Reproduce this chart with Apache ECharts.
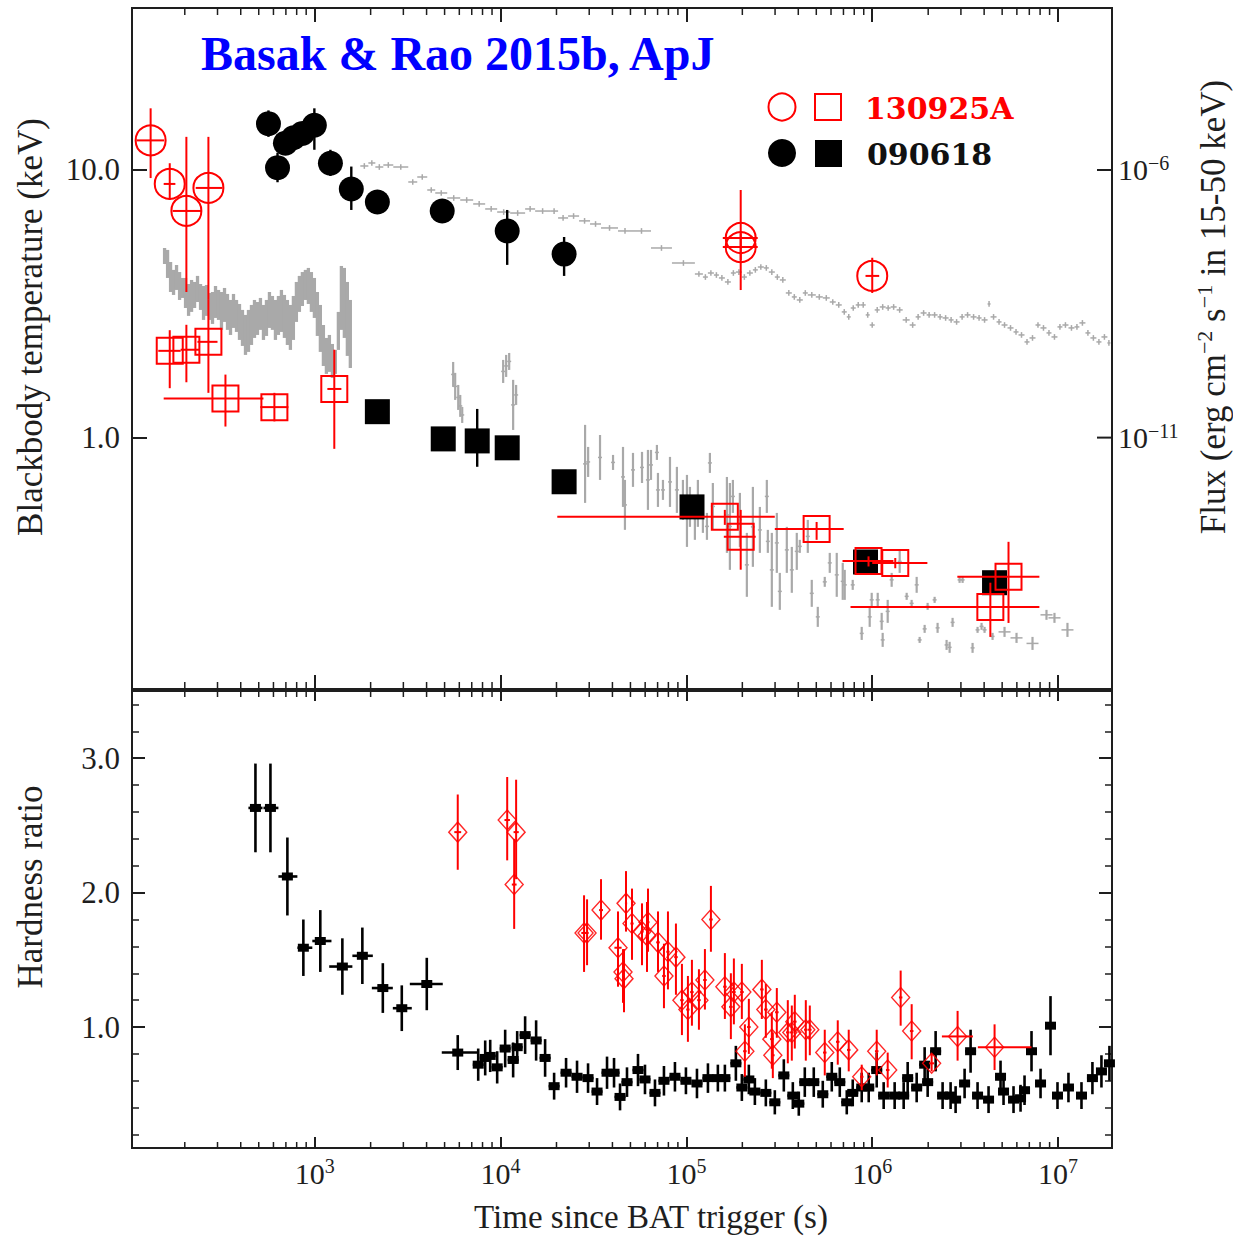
<!DOCTYPE html>
<html><head><meta charset="utf-8">
<script src="https://cdn.jsdelivr.net/npm/echarts@6/dist/echarts.min.js"></script>
<style>html,body{margin:0;padding:0;background:#fff}#c{width:1233px;height:1237px}</style>
</head><body><div id="c"></div>
<script>
// ---------------- axis ranges & tick labels ----------------
const X_MIN = 104, X_MAX = 1.95e7;          // time since BAT trigger (s)
const T_MIN = 0.115, T_MAX = 40.3;          // blackbody temperature (keV)
const F_MIN = 2.01e-16, F_MAX = 1.063e-3;   // flux (erg cm^-2 s^-1)
const HR_MIN = 0.1, HR_MAX = 3.5;           // hardness ratio
const X_LABEL_EXP = [3, 4, 5, 6, 7];
const T_TICK_LABELS = [1, 10];
const F_TICKS = [1e-6, 1e-11];
const F_TICK_EXP = ['\u22126', '\u221211'];
const HR_TICK_LABELS = [1, 2, 3];

// ---------------- top panel : blackbody temperatures ----------------
// [t, kT, tLo, tHi, kTLo, kTHi]
const RED_CIRCLES = [
  [131, 12.9, 110, 155, 9.33, 17.0],
  [166, 8.87, 154, 178, 7.73, 10.6],
  [204, 7.03, 172, 246, 3.50, 13.3],
  [268, 8.57, 229, 319, 3.27, 13.3],
  [1.96e5, 5.57, 1.57e5, 2.42e5, 3.56, 8.42],
  [1.96e5, 5.15, 1.57e5, 2.42e5, 4.60, 5.80],
  [1.00e6, 4.02, 9.2e5, 1.09e6, 3.47, 4.70]
];
const RED_SQUARES = [
  [166, 2.11, 144, 190, 1.53, 2.52],
  [204, 2.13, 190, 240, 1.61, 2.64],
  [268, 2.28, 234, 300, 1.47, 3.27],
  [331, 1.40, 154, 530, 1.10, 1.72],
  [607, 1.30, 510, 722, 1.15, 1.47],
  [1275, 1.52, 1170, 1392, 0.908, 2.13],
  [1.61e5, 0.506, 2.02e4, 2.99e5, 0.472, 0.537],
  [1.96e5, 0.426, 1.59e5, 2.36e5, 0.321, 0.537],
  [5.02e5, 0.456, 2.99e5, 7.02e5, 0.415, 0.484],
  [9.55e5, 0.346, 6.92e5, 1.30e6, 0.330, 0.360],
  [1.33e6, 0.340, 1.00e6, 1.98e6, 0.325, 0.355],
  [5.41e6, 0.302, 2.87e6, 7.93e6, 0.203, 0.408],
  [4.32e6, 0.233, 7.64e5, 7.93e6, 0.180, 0.287]
];
// [t, kT, kTLo, kTHi]
const BLACK_CIRCLES = [
  [564, 14.9, 13.3, 16.7], [631, 10.2, 9.0, 11.6], [696, 12.6, 11.4, 13.9],
  [768, 13.2, 12.0, 14.5], [859, 13.7, 12.4, 15.0], [996, 14.7, 11.9, 17.0],
  [1215, 10.6, 9.5, 11.9], [1574, 8.49, 7.09, 10.3], [2174, 7.59, 6.9, 8.3],
  [4855, 7.03, 6.4, 7.6], [10860, 5.92, 4.42, 7.09], [21980, 4.85, 4.02, 5.62]
];
const BLACK_SQUARES = [
  [2174, 1.25, 1.18, 1.32], [4917, 0.989, 0.94, 1.04], [7490, 0.972, 0.778, 1.28],
  [10860, 0.916, 0.87, 0.96], [21980, 0.684, 0.65, 0.72], [107200, 0.551, 0.52, 0.59],
  [920000, 0.343, 0.325, 0.36], [4.55e6, 0.287, 0.27, 0.30]
];

// ---------------- top panel : grey flux light curves (right axis) ----------------
// GRB 090618 XRT: contiguous time-bin edges and flux per bin
const XRT_090618_EDGES = [1760,1944,2120,2340,2648,3188,3563,4033,4453,5166,
6067,7125,8266,9590,11270,13560,15350,18480,20400,23090,
26460,30310,34730,42870,50970,64500,83620,111100,122700,130500,
140600,149600,161100,173500,184600,198800,211500,227900,242300,261000,
277600,299100,318200,342700,369200,392600,423000,450000,496900,542000,
590800,636300,685400,729200,766200,814900,866900,922200,969000,1.031e6,
1.097e6,1.181e6,1.256e6,1.353e6,1.458e6,1.590e6,1.712e6,1.821e6,1.961e6,2.087e6,
2.247e6,2.391e6,2.576e6,2.740e6,2.951e6,3.140e6,3.381e6,3.642e6,3.874e6,4.174e6,
4.331e6,4.665e6,4.962e6,5.344e6,5.757e6,6.124e6,6.596e6,7.017e6,7.558e6,8.039e6,
8.660e6,9.211e6,9.922e6,1.055e7,1.137e7,1.225e7,1.302e7,1.403e7,1.492e7,1.607e7,
1.711e7,1.842e7,1.912e7];
const XRT_090618_FLUX = [1.188e-6,1.352e-6,1.137e-6,1.239e-6,1.137e-6,5.97e-7,7.40e-7,4.23e-7,3.72e-7,3.00e-7,
2.75e-7,2.32e-7,1.87e-7,1.64e-7,1.57e-7,1.87e-7,1.71e-7,1.71e-7,1.27e-7,1.38e-7,
1.12e-7,9.80e-8,8.26e-8,7.26e-8,7.26e-8,3.49e-8,1.83e-8,1.14e-8,1.00e-8,1.19e-8,
1.09e-8,9.61e-9,8.09e-9,1.19e-8,1.24e-8,1.00e-8,1.19e-8,1.36e-8,1.54e-8,1.48e-8,
1.24e-8,1.00e-8,8.82e-9,5.04e-9,4.25e-9,3.73e-9,5.04e-9,4.63e-9,4.25e-9,4.07e-9,
3.42e-9,3.01e-9,2.23e-9,1.80e-9,2.64e-9,3.01e-9,3.01e-9,1.96e-9,1.27e-9,2.43e-9,
2.76e-9,2.64e-9,2.76e-9,2.43e-9,1.58e-9,1.27e-9,1.80e-9,2.13e-9,1.96e-9,1.96e-9,
1.80e-9,1.72e-9,1.58e-9,1.45e-9,1.80e-9,1.96e-9,1.80e-9,1.72e-9,1.58e-9,3.14e-9,
1.80e-9,1.45e-9,1.27e-9,1.12e-9,9.42e-10,8.28e-10,6.13e-10,7.28e-10,1.27e-9,1.12e-9,
9.03e-10,7.60e-10,1.17e-9,1.27e-9,1.12e-9,1.17e-9,1.39e-9,9.03e-10,7.28e-10,6.13e-10,
7.60e-10,5.87e-10];
const XRT_090618_REL_ERR = 0.13;

// GRB 130925A BAT light curve: time, flux upper and lower ends
const BAT_T = [155.7,161.6,167.7,174.0,180.6,187.5,194.5,201.9,209.6,217.5,
225.7,234.2,243.1,252.3,261.8,271.8,282.0,292.7,303.8,315.2,
327.2,339.5,352.4,365.7,379.6,393.9,408.8,424.3,440.3,456.9,
474.3,492.1,510.7,530.1,550.1,570.9,592.5,614.9,638.1,662.2,
687.3,713.2,740.2,768.1,797.3,827.4,858.6,891.3,924.9,960.0,
996.3,1034,1073,1114,1156,1200,1245,1292,1341,1392,1444,1499,1555];
const BAT_HI = [3.49e-8,3.21e-8,1.91e-8,1.36e-8,1.68e-8,1.24e-8,9.61e-9,9.61e-9,7.42e-9,8.82e-9,
8.09e-9,1.05e-8,7.42e-9,6.81e-9,7.11e-9,5.04e-9,5.26e-9,6.81e-9,5.74e-9,5.26e-9,
6.25e-9,4.83e-9,3.73e-9,4.83e-9,3.73e-9,3.14e-9,2.43e-9,1.96e-9,2.43e-9,3.01e-9,
3.73e-9,3.42e-9,4.07e-9,3.01e-9,3.73e-9,5.26e-9,4.43e-9,3.73e-9,4.43e-9,5.74e-9,
4.63e-9,3.73e-9,3.01e-9,4.43e-9,8.09e-9,1.05e-8,1.24e-8,1.36e-8,1.48e-8,1.24e-8,
9.61e-9,5.26e-9,3.01e-9,1.27e-9,7.28e-10,8.28e-10,5.62e-10,4.35e-10,2.23e-9,1.61e-8,
1.48e-8,8.09e-9,3.73e-9];
const BAT_LO = [1.75e-8,9.61e-9,5.26e-9,4.63e-9,5.74e-9,3.73e-9,4.07e-9,2.64e-9,1.88e-9,2.23e-9,
2.64e-9,3.42e-9,2.43e-9,1.58e-9,1.88e-9,1.58e-9,1.33e-9,1.72e-9,1.58e-9,1.03e-9,
1.45e-9,1.03e-9,8.28e-10,1.12e-9,9.42e-10,6.68e-10,5.16e-10,3.51e-10,3.99e-10,5.38e-10,
7.28e-10,8.28e-10,1.03e-9,6.68e-10,7.93e-10,1.12e-9,1.03e-9,6.68e-10,8.28e-10,9.42e-10,
7.28e-10,5.38e-10,4.35e-10,6.68e-10,1.45e-9,2.23e-9,2.88e-9,3.73e-9,3.14e-9,2.23e-9,
1.72e-9,7.93e-10,3.99e-10,2.18e-10,1.55e-10,1.69e-10,1.30e-10,1.55e-10,4.35e-10,1.03e-9,
7.28e-10,3.36e-10,2.00e-10];

// GRB 130925A XRT: [t, fluxLo, fluxHi]
const XRT_130925A = [
[5.56e3,8.85e-11,2.59e-10],[5.70e3,5.06e-11,1.62e-10],[5.92e3,3.29e-11,9.64e-11],[6.07e3,2.44e-11,6.27e-11],[6.22e3,1.88e-11,3.74e-11],
[1.033e4,1.05e-10,2.83e-10],[1.072e4,1.36e-10,3.51e-10],[1.113e4,1.84e-10,3.82e-10],[1.169e4,1.39e-11,1.20e-10],[1.213e4,4.08e-11,9.64e-11],
[2.85e4,6.03e-13,1.73e-11],[2.96e4,1.84e-12,6.70e-12],[3.43e4,1.62e-12,1.12e-11],[4.03e4,2.49e-12,4.75e-12],[4.56e4,5.07e-13,6.70e-12],
[4.67e4,1.89e-13,1.62e-12],[5.16e4,1.20e-12,5.18e-12],[5.77e4,1.42e-12,5.41e-12],[6.21e4,4.46e-13,5.89e-12],[6.45e4,1.62e-12,5.89e-12],
[6.94e4,3.83e-12,7.30e-12],[7.03e4,5.07e-13,2.19e-12],[7.48e4,6.86e-13,1.62e-12],[8.16e4,5.07e-13,4.36e-12],[8.89e4,3.92e-13,2.84e-12],
[9.58e4,2.90e-13,1.62e-12],[1.007e5,9.08e-14,2.01e-12],[1.045e5,2.15e-13,1.20e-12],[1.111e5,1.23e-13,7.80e-13],[1.153e5,2.15e-13,1.62e-12],
[1.227e5,1.66e-13,6.86e-13],[1.290e5,1.23e-13,3.92e-13],[1.338e5,2.19e-12,5.18e-12],[1.388e5,1.89e-13,1.42e-12],[1.652e5,7.02e-14,1.84e-12],
[1.714e5,3.38e-14,1.42e-12],[1.779e5,3.92e-13,1.62e-12],[1.940e5,9.08e-14,9.27e-13],[2.115e5,1.06e-14,1.66e-13],[2.279e5,3.85e-14,1.20e-12],
[2.485e5,7.02e-14,5.07e-13],[2.709e5,3.92e-13,1.62e-12],[2.743e5,7.02e-14,1.89e-13],[2.882e5,6.89e-15,1.66e-13],[3.066e5,2.97e-14,3.92e-13],
[3.182e5,6.05e-15,2.97e-14],[3.470e5,2.97e-14,2.15e-13],[3.692e5,1.26e-14,9.08e-14],[3.926e5,3.38e-14,1.66e-13],[4.075e5,7.02e-14,1.23e-13],
[4.500e5,7.02e-14,2.90e-13],[4.727e5,6.89e-15,2.20e-14],[5.093e5,2.91e-15,6.89e-15],[5.553e5,1.63e-14,2.50e-14],[5.908e5,2.97e-14,7.02e-14],
[6.442e5,1.06e-14,7.02e-14],[6.938e5,9.30e-15,4.57e-14],[7.112e5,9.30e-15,3.38e-14],[7.852e5,1.43e-14,2.20e-14],[8.777e5,1.66e-15,2.91e-15],
[9.690e5,2.91e-15,6.89e-15],[9.933e5,6.89e-15,1.26e-14],[1.070e6,6.89e-15,1.26e-14],[1.124e6,2.56e-15,5.32e-15],[1.138e6,1.23e-15,2.25e-15],
[1.211e6,3.46e-15,9.30e-15],[1.272e6,1.63e-14,2.97e-14],[1.405e6,2.97e-14,7.98e-14],[1.532e6,9.30e-15,1.26e-14],[1.629e6,6.89e-15,9.30e-15],
[1.734e6,1.26e-14,2.50e-14],[1.799e6,1.46e-15,1.89e-15],[1.914e6,2.25e-15,3.17e-15],[1.986e6,6.05e-15,8.17e-15],[2.166e6,8.17e-15,1.06e-14],
[2.247e6,2.25e-15,3.46e-15],[2.512e6,1.08e-15,1.66e-15],[2.608e6,9.52e-16,1.53e-15],[2.706e6,2.91e-15,4.29e-15],[2.951e6,1.93e-14,2.50e-14],
[3.063e6,1.93e-14,2.50e-14],[3.466e6,9.52e-16,1.46e-15],[3.687e6,2.25e-15,2.91e-15],[3.874e6,2.56e-15,3.46e-15],[4.021e6,2.25e-15,2.91e-15],
[4.440e6,1.66e-15,2.25e-15],[5.150e6,1.89e-15,2.91e-15],[5.974e6,1.46e-15,2.25e-15],[7.283e6,1.08e-15,1.89e-15],[8.660e6,3.94e-15,6.05e-15],
[9.561e6,3.46e-15,5.32e-15],[1.123e7,1.89e-15,3.46e-15]
];

// ---------------- bottom panel : hardness ratio ----------------
// GRB 090618: [t, HR, tLo, tHi, HRerr]
const HR_090618 = [
[480,2.63,440,524,0.33],[578,2.63,530,638,0.33],[713,2.12,638,807,0.29],[869,1.59,807,971,0.21],
[1072,1.64,971,1231,0.23],[1409,1.45,1197,1595,0.21],[1805,1.53,1595,2055,0.21],[2326,1.29,2030,2633,0.185],
[2942,1.14,2633,3330,0.17],[4010,1.32,3250,4888,0.195],[5885,0.81,4828,7490,0.13],
[7583,0.72,7090,8110,0.12],[8269,0.77,7730,8850,0.13],[8798,0.785,8220,9410,0.12],[9592,0.70,8960,10260,0.12],
[10590,0.84,9900,11330,0.14],[11690,0.755,10930,12510,0.13],[12290,0.85,11490,13150,0.12],[13560,0.94,12670,14510,0.14],
[15540,0.90,14520,16630,0.15],[17370,0.77,16230,18590,0.14],[19420,0.56,18150,20780,0.10],[22520,0.66,21050,24100,0.11],
[25800,0.63,24110,27610,0.12],[29570,0.62,27640,31640,0.11],[33060,0.52,30900,35370,0.10],[37410,0.66,34960,40030,0.12],
[40800,0.66,38130,43660,0.11],[43950,0.48,41070,47030,0.10],[47910,0.59,44780,51260,0.11],[54900,0.68,51310,58740,0.12],
[59870,0.61,55950,64060,0.11],[67760,0.51,63330,72500,0.10],[75730,0.60,70780,81030,0.11],[86780,0.63,81100,92850,0.11],
[99430,0.60,92930,106400,0.10],[114000,0.58,106500,122000,0.11],[130600,0.62,122100,139700,0.11],[147700,0.62,138000,158000,0.10],
[161100,0.62,150600,172400,0.10],[184600,0.73,172500,197500,0.13],[198800,0.55,185800,212700,0.10],[216800,0.61,202600,232000,0.11],
[233600,0.52,218300,250000,0.10],[267600,0.51,250100,286300,0.10],[299100,0.44,279500,320000,0.09],[334400,0.64,312500,357800,0.12],
[373800,0.49,349300,400000,0.10],[402500,0.43,376200,430700,0.09],[433600,0.59,405200,464000,0.11],[484600,0.59,452900,518500,0.11],
[541800,0.50,506400,579700,0.10],[605700,0.63,566100,648100,0.11],[668800,0.59,625000,715600,0.11],[729300,0.44,681600,780400,0.09],
[785300,0.51,733900,840300,0.10],[877800,0.55,820400,939200,0.11],[957200,0.55,894600,1.024e6,0.11],[1.057e6,0.68,9.88e5,1.131e6,0.13],
[1.152e6,0.49,1.077e6,1.233e6,0.10],[1.320e6,0.49,1.234e6,1.412e6,0.10],[1.476e6,0.49,1.379e6,1.579e6,0.10],[1.551e6,0.62,1.450e6,1.660e6,0.12],
[1.734e6,0.55,1.621e6,1.855e6,0.11],[1.914e6,0.72,1.789e6,2.048e6,0.13],[1.987e6,0.59,1.857e6,2.126e6,0.11],[2.193e6,0.82,2.050e6,2.347e6,0.15],
[2.391e6,0.49,2.235e6,2.558e6,0.10],[2.640e6,0.49,2.467e6,2.825e6,0.10],[2.809e6,0.46,2.625e6,3.006e6,0.10],[3.140e6,0.58,2.935e6,3.360e6,0.11],
[3.382e6,0.82,3.161e6,3.619e6,0.16],[3.687e6,0.49,3.446e6,3.945e6,0.10],[4.225e6,0.46,3.949e6,4.521e6,0.10],[4.901e6,0.63,4.580e6,5.244e6,0.12],
[5.087e6,0.52,4.754e6,5.443e6,0.10],[5.757e6,0.46,5.380e6,6.160e6,0.10],[6.280e6,0.47,5.869e6,6.720e6,0.10],[6.598e6,0.53,6.166e6,7.060e6,0.11],
[7.194e6,0.82,6.723e6,7.698e6,0.15],[8.045e6,0.58,7.519e6,8.608e6,0.11],[9.102e6,1.01,8.507e6,9.739e6,0.22],[9.925e6,0.49,9.276e6,1.062e7,0.10],
[1.137e7,0.55,1.063e7,1.217e7,0.11],[1.336e7,0.49,1.249e7,1.430e7,0.10],[1.530e7,0.62,1.430e7,1.637e7,0.12],[1.711e7,0.67,1.599e7,1.831e7,0.12],
[1.889e7,0.73,1.765e7,1.95e7,0.13]
];
// GRB 130925A: [t, HR, tLo, tHi, HRlo, HRhi]
const HR_130925A = [
[5885,2.45,5640,6140,2.17,2.73],[10860,2.54,10500,11230,2.24,2.86],[12130,2.45,11750,12530,2.10,2.84],[11840,2.06,11500,12200,1.73,2.40],
[28140,1.70,27200,29100,1.41,1.98],[29210,1.70,28600,29800,1.46,1.95],[34730,1.87,33900,35600,1.65,2.10],[42860,1.59,41000,44800,1.30,1.86],
[45600,1.41,44900,46300,1.18,1.58],[46170,1.36,45500,46900,1.11,1.58],[47330,1.92,46700,48000,1.71,2.16],[50980,1.77,50000,52000,1.50,2.03],
[57690,1.71,56500,58900,1.46,1.92],[62140,1.78,61000,63300,1.56,2.03],[61380,1.68,60300,62500,1.41,1.93],[70330,1.63,68800,71900,1.41,1.86],
[75730,1.38,74100,77400,1.14,1.62],[79580,1.56,78000,81200,1.28,1.86],[87850,1.52,86000,89800,1.24,1.77],[94630,1.20,92600,96700,0.94,1.47],
[101900,1.13,99800,104000,0.89,1.38],[107100,1.26,104800,109400,1.01,1.50],[116800,1.20,114300,119400,0.98,1.43],[125800,1.35,123100,128600,1.13,1.58],
[135500,1.80,132600,138500,1.56,2.05],[161100,1.30,157700,164700,1.06,1.55],[173500,1.15,169800,177300,0.91,1.40],[180100,1.26,176300,184100,1.02,1.51],
[198800,1.26,194600,203200,1.06,1.47],[206400,0.82,202000,211000,0.63,1.02],[216800,1.00,212200,221600,0.80,1.21],[254700,1.28,249300,260300,1.06,1.50],
[267600,1.13,261900,273500,0.92,1.32],[288200,0.91,282100,294600,0.69,1.11],[291800,0.79,285600,298200,0.62,0.96],[306600,1.11,300100,313400,0.92,1.29],
[351300,0.96,343800,359000,0.73,1.20],[369200,0.96,361300,377300,0.75,1.16],[383100,1.04,374900,391500,0.84,1.24],[439100,0.98,429700,448700,0.75,1.20],
[461400,0.98,451600,471500,0.79,1.16],[555300,0.81,543400,567500,0.64,0.98],[652300,0.89,638400,666600,0.72,1.05],[747300,0.83,731300,763700,0.67,0.98],
[877800,0.63,859100,897000,0.53,0.72],[1.057e6,0.82,1.034e6,1.080e6,0.64,0.98],[1.211e6,0.68,1.185e6,1.238e6,0.55,0.81],[1.422e6,1.22,1.392e6,1.453e6,1.01,1.42],
[1.630e6,0.97,1.595e6,1.666e6,0.76,1.17],[2.087e6,0.73,2.02e6,2.15e6,0.67,0.80],[2.879e6,0.93,2.37e6,3.48e6,0.75,1.12],[4.552e6,0.85,3.70e6,7.19e6,0.68,1.02]
];

// ---------------- styling ----------------
const FONT = "'Liberation Serif','Times New Roman',serif";
const INK = '#1e1e1e';
const RED = '#ff0000';
const GREY = '#a9a9a9';

// minor log ticks (2..9 x 10^n) inside the x range
const X_MINOR = [];
for (let e = 2; e <= 7; e++) for (let m = 2; m <= 9; m++) { const v = m * Math.pow(10, e); if (v > X_MIN && v < X_MAX) X_MINOR.push(v); }

function line(x1, y1, x2, y2, color, w) {
  return {type: 'line', shape: {x1, y1, x2, y2}, style: {stroke: color, lineWidth: w}};
}
function errorBars(color, width) {
  return function (params, api) {
    const x = api.value(0), y = api.value(1);
    const c = api.coord([x, y]);
    const kids = [];
    const xlo = api.value(2), xhi = api.value(3), ylo = api.value(4), yhi = api.value(5);
    if (xhi > xlo) { const a = api.coord([xlo, y]), b = api.coord([xhi, y]); kids.push(line(a[0], c[1], b[0], c[1], color, width)); }
    if (yhi > ylo) { const a = api.coord([x, ylo]), b = api.coord([x, yhi]); kids.push(line(c[0], a[1], c[0], b[1], color, width)); }
    return {type: 'group', children: kids};
  };
}
function minorTicks(len) {
  return function (params, api) {
    const cs = params.coordSys;
    const x = api.coord([api.value(0), api.value(1)])[0];
    return {type: 'group', children: [
      line(x, cs.y, x, cs.y + len, INK, 1.5),
      line(x, cs.y + cs.height, x, cs.y + cs.height - len, INK, 1.5)
    ]};
  };
}

// ---------------- derived series data ----------------
const xrt090618Rows = XRT_090618_FLUX.map((f, i) => {
  const t0 = XRT_090618_EDGES[i], t1 = XRT_090618_EDGES[i + 1];
  return [Math.sqrt(t0 * t1), f, t0, t1, f / (1 + XRT_090618_REL_ERR), f * (1 + XRT_090618_REL_ERR)];
});
const batRows = BAT_T.map((t, i) => [t, Math.sqrt(BAT_LO[i] * BAT_HI[i]), t, t, BAT_LO[i], BAT_HI[i]]);
const xrt130925Rows = XRT_130925A.map(r => [r[0], Math.sqrt(r[1] * r[2]), r[1], r[2]]);
const bcErr = BLACK_CIRCLES.map(r => [r[0], r[1], r[0], r[0], r[2], r[3]]);
const bsErr = BLACK_SQUARES.map(r => [r[0], r[1], r[0], r[0], r[2], r[3]]);
const hrBErr = HR_090618.map(r => [r[0], r[1], r[2], r[3], r[1] - r[4], r[1] + r[4]]);

const chart = echarts.init(document.getElementById('c'), null, {renderer: 'svg'});

const xBase = {type: 'log', min: X_MIN, max: X_MAX, axisLine: {show: false}, splitLine: {show: false}, axisLabel: {show: false}};
const tickStyle = {color: INK, width: 2};
const TITLE_FONT = '35px ' + FONT;

const option = {
  animation: false,
  textStyle: {fontFamily: FONT},
  title: {text: 'Basak & Rao 2015b, ApJ', left: 196, top: 24,
    textStyle: {color: '#0000ff', fontSize: 48, fontWeight: 'bold', fontFamily: FONT}},
  grid: [
    {left: 132, top: 8, width: 980, height: 681, show: true, borderColor: INK, borderWidth: 2, backgroundColor: 'transparent'},
    {left: 132, top: 691, width: 980, height: 457, show: true, borderColor: INK, borderWidth: 2, backgroundColor: 'transparent'}
  ],
  xAxis: [
    Object.assign({}, xBase, {gridIndex: 0, position: 'bottom', axisTick: {inside: true, length: 14, lineStyle: tickStyle}}),
    Object.assign({}, xBase, {gridIndex: 0, position: 'top', axisTick: {inside: true, length: 14, lineStyle: tickStyle}}),
    Object.assign({}, xBase, {gridIndex: 1, position: 'bottom', axisTick: {inside: true, length: 11, lineStyle: tickStyle},
      axisLabel: {show: true, margin: 8, color: INK,
        formatter: v => { const e = Math.log10(v), r = Math.round(e); return (Math.abs(e - r) < 1e-6 && X_LABEL_EXP.includes(r)) ? '{b|10}{s|' + r + '}' : ''; },
        rich: {b: {fontFamily: FONT, fontSize: 30, color: INK, lineHeight: 34}, s: {fontFamily: FONT, fontSize: 20, color: INK, lineHeight: 14, verticalAlign: 'top'}}}}),
    Object.assign({}, xBase, {gridIndex: 1, position: 'top', axisTick: {inside: true, length: 10, lineStyle: tickStyle}})
  ],
  yAxis: [
    {gridIndex: 0, type: 'log', min: T_MIN, max: T_MAX, position: 'left', axisLine: {show: false}, splitLine: {show: false},
      axisTick: {inside: true, length: 15, lineStyle: tickStyle},
      axisLabel: {margin: 12, color: INK, fontSize: 31, fontFamily: FONT,
        formatter: v => { const k = T_TICK_LABELS.find(k => Math.abs(v / k - 1) < 1e-6); return k ? k.toFixed(1) : ''; }}},
    {gridIndex: 0, type: 'log', min: F_MIN, max: F_MAX, position: 'right', axisLine: {show: false}, splitLine: {show: false},
      axisTick: {show: false}, axisLabel: {show: false}},
    {gridIndex: 1, type: 'value', min: HR_MIN, max: HR_MAX, splitNumber: 17, position: 'left', axisLine: {show: false}, splitLine: {show: false},
      axisTick: {inside: true, length: 7, lineStyle: {color: INK, width: 1.5}}, axisLabel: {show: false}},
    {gridIndex: 1, type: 'value', min: HR_MIN, max: HR_MAX, splitNumber: 3, position: 'left', axisLine: {show: false}, splitLine: {show: false},
      axisTick: {inside: true, length: 13, lineStyle: tickStyle},
      axisLabel: {margin: 12, color: INK, fontSize: 31, fontFamily: FONT,
        formatter: v => HR_TICK_LABELS.some(k => Math.abs(k - v) < 1e-6) ? v.toFixed(1) : ''}},
    {gridIndex: 1, type: 'value', min: HR_MIN, max: HR_MAX, splitNumber: 17, position: 'right', axisLine: {show: false}, splitLine: {show: false},
      axisTick: {inside: true, length: 7, lineStyle: {color: INK, width: 1.5}}, axisLabel: {show: false}},
    {gridIndex: 1, type: 'value', min: HR_MIN, max: HR_MAX, splitNumber: 3, position: 'right', axisLine: {show: false}, splitLine: {show: false},
      axisTick: {inside: true, length: 13, lineStyle: tickStyle}, axisLabel: {show: false}}
  ],
  series: [
    // grey light curves
    {type: 'custom', name: 'BAT 130925A', xAxisIndex: 0, yAxisIndex: 1, silent: true, z: 1, data: batRows, renderItem: errorBars(GREY, 3.3)},
    {type: 'custom', name: 'XRT 130925A', xAxisIndex: 0, yAxisIndex: 1, silent: true, z: 1, data: xrt130925Rows,
      renderItem: (params, api) => {
        const t = api.value(0), f = api.value(1);
        const c = api.coord([t, f]), a = api.coord([t, api.value(2)]), b = api.coord([t, api.value(3)]);
        const hw = t > 5e6 ? 6 : 2;
        return {type: 'group', children: [line(c[0], a[1], c[0], b[1], GREY, 2.2), line(c[0] - hw, c[1], c[0] + hw, c[1], GREY, 1.5)]};
      }},
    {type: 'custom', name: 'XRT 090618', xAxisIndex: 0, yAxisIndex: 1, silent: true, z: 1, data: xrt090618Rows, renderItem: errorBars(GREY, 1.5)},
    // 090618 temperatures
    {type: 'custom', xAxisIndex: 0, yAxisIndex: 0, silent: true, z: 3, data: bcErr, renderItem: errorBars('#000', 2.4)},
    {type: 'custom', xAxisIndex: 0, yAxisIndex: 0, silent: true, z: 3, data: bsErr, renderItem: errorBars('#000', 2.4)},
    {type: 'scatter', name: '090618 circles', xAxisIndex: 0, yAxisIndex: 0, silent: true, z: 4, symbol: 'circle', symbolSize: 25,
      itemStyle: {color: '#000', opacity: 1}, data: BLACK_CIRCLES.map(r => [r[0], r[1]])},
    {type: 'scatter', name: '090618 squares', xAxisIndex: 0, yAxisIndex: 0, silent: true, z: 4, symbol: 'rect', symbolSize: 25,
      itemStyle: {color: '#000', opacity: 1}, data: BLACK_SQUARES.map(r => [r[0], r[1]])},
    // 130925A temperatures
    {type: 'custom', xAxisIndex: 0, yAxisIndex: 0, silent: true, z: 5, data: RED_CIRCLES, renderItem: errorBars(RED, 2)},
    {type: 'custom', xAxisIndex: 0, yAxisIndex: 0, silent: true, z: 5, data: RED_SQUARES, renderItem: errorBars(RED, 2)},
    {type: 'scatter', name: '130925A circles', xAxisIndex: 0, yAxisIndex: 0, silent: true, z: 6, symbol: 'circle', symbolSize: 30,
      itemStyle: {color: 'rgba(0,0,0,0)', borderColor: RED, borderWidth: 2, opacity: 1}, data: RED_CIRCLES.map(r => [r[0], r[1]])},
    {type: 'scatter', name: '130925A squares', xAxisIndex: 0, yAxisIndex: 0, silent: true, z: 6, symbol: 'rect', symbolSize: 26,
      itemStyle: {color: 'rgba(0,0,0,0)', borderColor: RED, borderWidth: 2, opacity: 1}, data: RED_SQUARES.map(r => [r[0], r[1]])},
    // hardness ratio
    {type: 'custom', xAxisIndex: 2, yAxisIndex: 2, silent: true, z: 3, data: hrBErr, renderItem: errorBars('#000', 2.6)},
    {type: 'scatter', name: 'HR 090618', xAxisIndex: 2, yAxisIndex: 2, silent: true, z: 4, symbol: 'rect', symbolSize: [11, 8],
      itemStyle: {color: '#000', opacity: 1}, data: HR_090618.map(r => [r[0], r[1]])},
    {type: 'custom', xAxisIndex: 2, yAxisIndex: 2, silent: true, z: 5, data: HR_130925A, renderItem: errorBars(RED, 2)},
    {type: 'scatter', name: 'HR 130925A', xAxisIndex: 2, yAxisIndex: 2, silent: true, z: 6, symbol: 'diamond', symbolSize: [18, 20],
      itemStyle: {color: 'rgba(0,0,0,0)', borderColor: RED, borderWidth: 1.4, opacity: 0.85}, data: HR_130925A.map(r => [r[0], r[1]])},
    // minor x ticks
    {type: 'custom', xAxisIndex: 0, yAxisIndex: 0, silent: true, z: 8, data: X_MINOR.map(v => [v, 1]), renderItem: minorTicks(7)},
    {type: 'custom', xAxisIndex: 2, yAxisIndex: 2, silent: true, z: 8, data: X_MINOR.map(v => [v, 1]), renderItem: minorTicks(6)},
    // right flux axis ticks & labels
    {type: 'custom', xAxisIndex: 0, yAxisIndex: 1, silent: true, z: 8, data: F_TICKS.map((v, i) => [X_MAX, v, i]),
      renderItem: (params, api) => {
        const cs = params.coordSys, xr = cs.x + cs.width;
        const y = api.coord([X_MAX, api.value(1)])[1];
        const exp = F_TICK_EXP[api.value(2)];
        return {type: 'group', children: [
          line(xr - 15, y, xr, y, INK, 2),
          {type: 'text', x: xr + 6, y: y, style: {text: '{b|10}{s|' + exp + '}', align: 'left', verticalAlign: 'middle',
            rich: {b: {fontFamily: FONT, fontSize: 30, fill: INK, lineHeight: 34}, s: {fontFamily: FONT, fontSize: 20, fill: INK, lineHeight: 14, verticalAlign: 'top'}}}}
        ]};
      }}
  ],
  graphic: [
    // legend
    {type: 'circle', shape: {cx: 782, cy: 107, r: 13.5}, style: {fill: 'none', stroke: RED, lineWidth: 2}},
    {type: 'rect', shape: {x: 815, y: 94, width: 26, height: 26}, style: {fill: 'none', stroke: RED, lineWidth: 2}},
    {type: 'text', x: 865, y: 108, style: {text: '130925A', fill: RED, font: "bold 30px 'DejaVu Serif'", align: 'left', verticalAlign: 'middle', textAlign: 'left', textVerticalAlign: 'middle'}},
    {type: 'circle', shape: {cx: 782, cy: 153, r: 14}, style: {fill: '#000'}},
    {type: 'rect', shape: {x: 815, y: 140, width: 27, height: 27}, style: {fill: '#000'}},
    {type: 'text', x: 867, y: 154, style: {text: '090618', fill: '#111', font: "bold 30px 'DejaVu Serif'", align: 'left', verticalAlign: 'middle', textAlign: 'left', textVerticalAlign: 'middle'}},
    // axis titles
    {type: 'text', x: 30, y: 327, rotation: Math.PI / 2, style: {text: 'Blackbody temperature (keV)', fill: INK, font: TITLE_FONT, align: 'center', verticalAlign: 'middle', textAlign: 'center', textVerticalAlign: 'middle'}},
    {type: 'text', x: 30, y: 887, rotation: Math.PI / 2, style: {text: 'Hardness ratio', fill: INK, font: TITLE_FONT, align: 'center', verticalAlign: 'middle', textAlign: 'center', textVerticalAlign: 'middle'}},
    {type: 'text', x: 651, y: 1217, style: {text: 'Time since BAT trigger (s)', fill: INK, font: '33px ' + FONT, align: 'center', verticalAlign: 'middle', textAlign: 'center', textVerticalAlign: 'middle'}},
    {type: 'text', x: 1213, y: 307, rotation: Math.PI / 2, style: {
      text: '{n|Flux (erg cm}{s|\u22122}{n| s}{s|\u22121}{n| in 15-50 keV)}', align: 'center', verticalAlign: 'middle', textAlign: 'center', textVerticalAlign: 'middle',
      rich: {n: {fontFamily: FONT, fontSize: 35, fill: INK, lineHeight: 40}, s: {fontFamily: FONT, fontSize: 22, fill: INK, lineHeight: 16, verticalAlign: 'top'}}}}
  ]
};
chart.setOption(option);
</script></body></html>
